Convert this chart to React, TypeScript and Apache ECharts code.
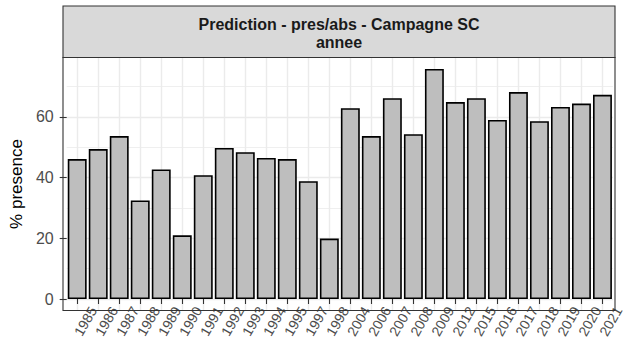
import React, { useEffect, useRef } from "react";
import * as echarts from "echarts";

// ---- data ----
const categories = [
  "1985", "1986", "1987", "1988", "1989", "1990", "1991", "1992", "1993", "1994",
  "1995", "1997", "1998", "2004", "2006", "2007", "2008", "2009", "2012", "2015",
  "2016", "2017", "2018", "2019", "2020", "2021",
];
const presence = [
  46.1, 49.4, 53.7, 32.5, 42.7, 21.0, 40.8, 49.8, 48.4, 46.5,
  46.1, 38.8, 19.9, 62.9, 53.7, 66.2, 54.3, 75.8, 64.9, 66.2,
  59.0, 68.2, 58.6, 63.3, 64.4, 67.3,
];
const majorTicks = [0, 20, 40, 60];
const minorTicks = [10, 30, 50, 70];
const stripTitle = "Prediction - pres/abs - Campagne SC";
const stripSubtitle = "annee";
const yTitle = "% presence";

export default function App() {
  const ref = useRef<HTMLDivElement>(null);

  useEffect(() => {
    if (!ref.current) return;
    const chart = echarts.init(ref.current, null, { renderer: "svg" });

    const W = 629;
    const H = 348;
    const panelLeft = 63;
    const panelRight = 615;
    const panelTop = 57.5;
    const panelBottom = 310.5;
    const stripTop = 6;

    // ggplot-like expansions
    const n = categories.length;
    const cw = (panelRight - panelLeft) / (n + 1.2);
    const gridLeft = panelLeft + 0.1 * cw;
    const gridRight = panelRight - 0.1 * cw;
    const dataMax = Math.max(...presence);
    const yMin = -0.05 * dataMax;
    const yMax = dataMax * 1.05;

    const font = '"Liberation Sans", Arial, sans-serif';
    const gridColor = "#EBEBEB";

    chart.setOption({
      animation: false,
      backgroundColor: "#FFFFFF",
      grid: {
        left: gridLeft,
        right: W - gridRight,
        top: panelTop,
        bottom: H - panelBottom,
        containLabel: false,
      },
      xAxis: {
        type: "category",
        data: categories,
        boundaryGap: true,
        axisLine: { show: false },
        axisTick: {
          show: true,
          alignWithLabel: true,
          length: 5,
          lineStyle: { color: "#333333", width: 1.1 },
        },
        splitLine: {
          show: true,
          alignWithLabel: true,
          lineStyle: { color: gridColor, width: 1.4 },
        },
        axisLabel: {
          interval: 0,
          rotate: 60,
          align: "center",
          verticalAlign: "top",
          lineHeight: 19,
          margin: 6,
          fontSize: 14,
          fontFamily: font,
          color: "#4D4D4D",
        },
      },
      yAxis: [
        {
          type: "value",
          min: yMin,
          max: yMax,
          name: yTitle,
          nameLocation: "middle",
          nameGap: 32,
          nameTextStyle: { fontSize: 17, fontFamily: font, color: "#000000" },
          axisLine: { show: false },
          axisTick: {
            show: true,
            customValues: majorTicks,
            length: 7,
            lineStyle: { color: "#333333", width: 1.1 },
          },
          axisLabel: {
            customValues: majorTicks,
            margin: 13,
            fontSize: 16,
            fontFamily: font,
            color: "#4D4D4D",
          },
          splitLine: { show: true, lineStyle: { color: gridColor, width: 1.4 } },
        },
        {
          type: "value",
          min: yMin,
          max: yMax,
          position: "left",
          axisLine: { show: false },
          axisTick: { show: false, customValues: minorTicks },
          axisLabel: { show: false, customValues: minorTicks },
          splitLine: { show: true, lineStyle: { color: gridColor, width: 0.8 } },
        },
      ],
      series: [
        {
          type: "bar",
          data: presence,
          yAxisIndex: 0,
          barCategoryGap: "10%",
          itemStyle: {
            color: "#BEBEBE",
            borderColor: "#000000",
            borderWidth: 1.6,
          },
          z: 3,
        },
      ],
      graphic: [
        {
          type: "rect",
          shape: {
            x: panelLeft,
            y: panelTop,
            width: panelRight - panelLeft,
            height: panelBottom - panelTop,
          },
          style: { fill: "none", stroke: "#333333", lineWidth: 1.1 },
          z: 10,
          silent: true,
        },
        {
          type: "rect",
          shape: {
            x: panelLeft,
            y: stripTop,
            width: panelRight - panelLeft,
            height: panelTop - stripTop,
          },
          style: { fill: "#D9D9D9", stroke: "#333333", lineWidth: 1.1 },
          z: 10,
          silent: true,
        },
        {
          type: "text",
          x: (panelLeft + panelRight) / 2,
          y: (stripTop + panelTop) / 2 + 1.5,
          style: {
            text: stripTitle + "\n" + stripSubtitle,
            textAlign: "center",
            textVerticalAlign: "middle",
            font: 'bold 16px "Liberation Sans", Arial, sans-serif',
            lineHeight: 18,
            fill: "#1A1A1A",
          },
          z: 11,
          silent: true,
        },
      ],
    });

    return () => chart.dispose();
  }, []);

  return (
    <div
      ref={ref}
      style={{ position: "absolute", left: 0, top: 0, width: 629, height: 348, background: "#fff" }}
    />
  );
}
